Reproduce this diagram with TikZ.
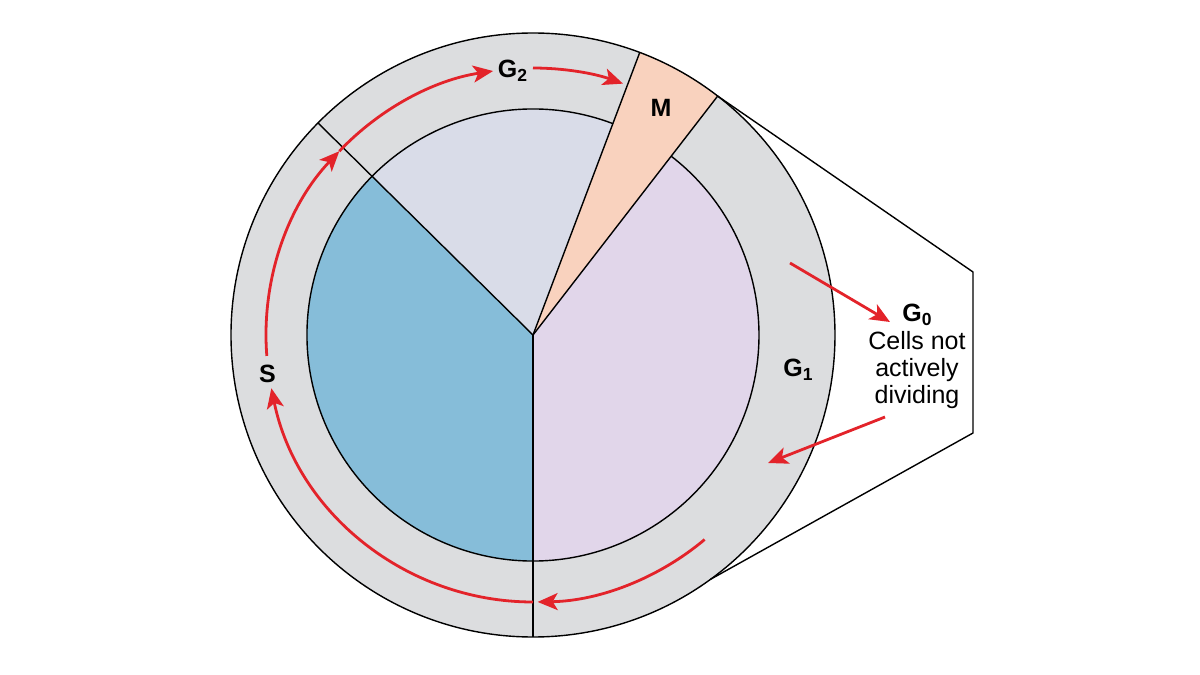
\documentclass[tikz,border=0pt]{standalone}
\usepackage{fontspec}
\setmainfont{Liberation Sans}
\usetikzlibrary{arrows.meta}
\definecolor{ringfill}{HTML}{DCDDDF}
\definecolor{gtwofill}{HTML}{D9DCE8}
\definecolor{sfill}{HTML}{86BDD9}
\definecolor{gonefill}{HTML}{E1D6EA}
\definecolor{mfill}{HTML}{F9D2BE}
\definecolor{cycred}{HTML}{E3232A}
\tikzset{
  edge/.style  = {draw=black, line width=0.7pt, line join=round},
  cyc/.style   = {-{Stealth[length=10pt, width=8.5pt, inset=2.5pt]}, draw=cycred, line width=1.4pt},
  phase/.style = {font=\fontsize{12.5}{13.5}\selectfont\bfseries, inner sep=0pt},
  note/.style  = {font=\fontsize{12.5}{13.5}\selectfont, align=center, inner sep=0pt},
}
\begin{document}
\begin{tikzpicture}[x=0.5pt, y=0.5pt]
\useasboundingbox (-533,-340) rectangle (667,335);
\def\ro{302} \def\ri{226} \def\ra{267}
% ring and sectors
\fill[ringfill] (0,0) circle[radius=\ro];
\fill[mfill] (0,0) -- (52.3:\ro) arc[start angle=52.3, end angle=69.3, radius=\ro] -- cycle;
\foreach \cl/\a/\b in {gtwofill/69.3/135.4, sfill/135.4/270, gonefill/-90/52.3}{
  \fill[\cl] (0,0) -- (\a:\ri) arc[start angle=\a, end angle=\b, radius=\ri] -- cycle;
}
\draw[edge] (0,0) circle[radius=\ro];
\draw[edge] (69.3:\ri) arc[start angle=69.3, end angle=412.3, radius=\ri];
\coordinate (hub) at (0,0);
\foreach \a in {52.3, 69.3, 135.4, 270}{\draw[edge] (hub) -- (\a:\ro);}
% zoom-out box for G0
\coordinate (boxa) at (52.3:\ro);
\coordinate (boxb) at (440,63);
\coordinate (boxc) at (440,-98);
\coordinate (boxd) at (-54:\ro);
\draw[edge] (boxa) -- (boxb) -- (boxc) -- (boxd);
% cycle arrows
\foreach \a/\b in {-50/-89, 270/191.5, 184.5/136.5, 136.5/98.6, 90/70.3}{
  \draw[cyc] (\a:\ra) arc[start angle=\a, end angle=\b, radius=\ra];
}
% labels
\node[phase] (gtwo) at (-20,264) {G\textsubscript{2}};
\node[phase] (m) at (128,227) {M};
\node[phase] (s) at (-265.5,-39) {S};
\node[phase] (gone) at (265.5,-35) {G\textsubscript{1}};
\node[phase] (gzero) at (384.5,20) {G\textsubscript{0}};
\node[note] (rest) at (384,-35) {Cells not\\actively\\dividing};
\coordinate (outs) at (257,72);
\coordinate (oute) at (357,13);
\coordinate (backs) at (352,-82);
\coordinate (backe) at (235,-128);
\draw[cyc] (outs) -- (oute);
\draw[cyc] (backs) -- (backe);
\end{tikzpicture}
\end{document}
